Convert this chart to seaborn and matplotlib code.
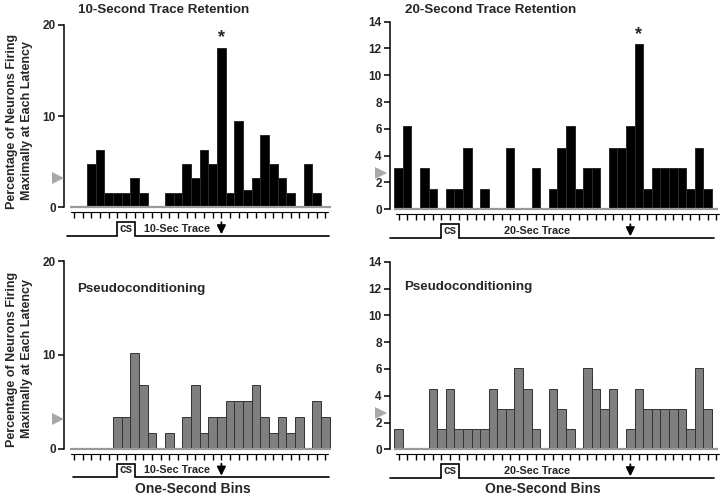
import numpy as np
import pandas as pd
import matplotlib
matplotlib.use("Agg")
import matplotlib.pyplot as plt
import seaborn as sns

# ---------------- data ----------------
bins_10 = list(range(30))
bins_20 = list(range(38))
trace10_pct = [0, 0, 4.8, 6.3, 1.6, 1.6, 1.6, 3.2, 1.6, 0, 0, 1.6, 1.6, 4.8, 3.2,
               6.3, 4.8, 17.5, 1.6, 9.5, 1.9, 3.2, 7.9, 4.8, 3.2, 1.6, 0, 4.8, 1.6, 0]
pseudo10_pct = [0, 0, 0, 0, 0, 3.4, 3.4, 10.2, 6.8, 1.7, 0, 1.7, 0, 3.4, 6.8,
                1.7, 3.4, 3.4, 5.1, 5.1, 5.1, 6.8, 3.4, 1.7, 3.4, 1.7, 3.4, 0, 5.1, 3.4]
trace20_pct = [3.1, 6.2, 0, 3.1, 1.5, 0, 1.5, 1.5, 4.6, 0, 1.5, 0, 0, 4.6, 0, 0,
               3.1, 0, 1.5, 4.6, 6.2, 1.5, 3.1, 3.1, 0, 4.6, 4.6, 6.2, 12.3, 1.5,
               3.1, 3.1, 3.1, 3.1, 1.5, 4.6, 1.5, 0]
pseudo20_pct = [1.5, 0, 0, 0, 4.5, 1.5, 4.5, 1.5, 1.5, 1.5, 1.5, 4.5, 3.0, 3.0,
                6.1, 4.5, 1.5, 0, 4.5, 3.0, 1.5, 0, 6.1, 4.5, 3.0, 4.5, 0, 1.5,
                4.5, 3.0, 3.0, 3.0, 3.0, 3.0, 1.5, 6.1, 3.0, 0]
chance_10 = 3.2
chance_20 = 2.7
cs_on, cs_off = 5, 7
us_10, us_20 = 17, 27
peak_10, peak_20 = 17, 28
titles = ["10-Second Trace Retention", "20-Second Trace Retention",
          "Pseudoconditioning", "Pseudoconditioning"]
trace_labels = ["10-Sec Trace", "20-Sec Trace"]
yticks_10 = [0, 10, 20]
yticks_20 = [0, 2, 4, 6, 8, 10, 12, 14]
ylabel = "Percentage of Neurons Firing\nMaximally at Each Latency"
xlabel = "One-Second Bins"

# ---------------- style ----------------
sns.set_theme(style="white")
plt.rcParams["font.family"] = ["Liberation Sans", "DejaVu Sans"]
plt.rcParams["font.weight"] = "bold"

W, H = 720, 498
fig = plt.figure(figsize=(7.2, 4.98), dpi=100)


def make_panel(bins, vals, chance, ymax, yticks, us, peak, face, edge,
               left, x0, ppx, right, zero, ppy, bottom, tl_left, tl_right,
               trace_x, trace_label, tri_x, star):
    top = zero - ymax * ppy
    ax = fig.add_axes([left / W, 1 - bottom / H, (right - left) / W, (bottom - top) / H])
    df = pd.DataFrame({"bin": bins, "pct": vals})
    sns.barplot(data=df, x="bin", y="pct", native_scale=True, width=1.0,
                color=face, edgecolor=edge, linewidth=0.7, saturation=1,
                errorbar=None, ax=ax, zorder=2)
    x1 = x0 + (right - left) / ppx
    y0 = -(bottom - zero) / ppy
    ax.set_xlim(x0, x1)
    ax.set_ylim(y0, ymax)
    ax.set_xlabel("")
    ax.set_ylabel("")
    ax.set_xticks([])
    ax.set_yticks(yticks)
    ax.set_yticklabels([str(t) for t in yticks], fontsize=8.5, fontweight="bold")
    ax.tick_params(axis="y", left=True, length=4, width=1.1, color="black",
                   direction="out", pad=2)
    for s in ["top", "right", "bottom"]:
        ax.spines[s].set_visible(False)
    ax.spines["left"].set_bounds(0, ymax)
    ax.spines["left"].set_color("black")
    ax.spines["left"].set_linewidth(1.1)
    ax.patch.set_alpha(0)

    # grey baseline
    ax.plot([-0.5, x1], [0, 0], color="#9a9a9a", lw=1.6, zorder=3,
            solid_capstyle="butt", clip_on=False)

    def d(off):
        return -off / ppy

    # comb of time ticks
    n = len(bins)
    ax.plot([-0.3, n - 1 + 0.3], [d(5), d(5)], color="black", lw=0.8, clip_on=False)
    ax.vlines(bins, d(11), d(5), color="black", lw=1.0, clip_on=False)

    # stimulus timeline
    base, raised = d(28.5), d(15)
    ax.plot([tl_left, cs_on, cs_on, cs_off, cs_off, tl_right],
            [base, base, raised, raised, base, base], color="black", lw=1.2,
            clip_on=False, solid_joinstyle="miter")
    mid = (base + raised) / 2
    ax.text((cs_on + cs_off) / 2, mid, "cs", ha="center", va="center",
            fontsize=8.5, fontweight="bold")
    ax.text(trace_x, mid, trace_label, ha="center", va="center",
            fontsize=7.8, fontweight="bold")
    ax.annotate("", xy=(us, d(27)), xytext=(us, d(15)),
                arrowprops=dict(arrowstyle="-|>", color="black", lw=1.3,
                                mutation_scale=13, shrinkA=0, shrinkB=0),
                annotation_clip=False)

    # chance level marker
    ax.plot([tri_x], [chance], marker=">", ms=8, color="#a8a8a8",
            markeredgewidth=0, clip_on=False, zorder=4)
    if star:
        ax.text(peak, vals[peak] + 0.1 * (ymax / 14), "*", ha="center",
                va="bottom", fontsize=13, fontweight="bold")
    return ax


# top-left: 10-s trace
make_panel(bins_10, trace10_pct, chance_10, 20, yticks_10, us_10, peak_10,
           "black", "#2a2a2a", left=64.3, x0=-1.12, ppx=8.67, right=331,
           zero=207.3, ppy=9.115, bottom=244, tl_left=-0.85, tl_right=29.4,
           trace_x=11.9, trace_label=trace_labels[0], tri_x=-1.85, star=True)
# top-right: 20-s trace
make_panel(bins_20, trace20_pct, chance_20, 14, yticks_20, us_20, peak_20,
           "black", "#2a2a2a", left=390, x0=-1.0, ppx=8.583, right=718,
           zero=209.3, ppy=13.4, bottom=244, tl_left=-1.0, tl_right=36.8,
           trace_x=16.1, trace_label=trace_labels[1], tri_x=-2.05, star=True)
# bottom-left: pseudo 10
make_panel(bins_10, pseudo10_pct, chance_10, 20, yticks_10, us_10, peak_10,
           "#7f7f7f", "#333333", left=64.3, x0=-1.12, ppx=8.67, right=331,
           zero=448.7, ppy=9.385, bottom=481, tl_left=-0.15, tl_right=29.4,
           trace_x=11.9, trace_label=trace_labels[0], tri_x=-1.85, star=False)
# bottom-right: pseudo 20
make_panel(bins_20, pseudo20_pct, chance_20, 14, yticks_20, us_20, peak_20,
           "#7f7f7f", "#333333", left=390, x0=-1.0, ppx=8.583, right=718,
           zero=449.3, ppy=13.4, bottom=481, tl_left=-1.0, tl_right=36.8,
           trace_x=16.1, trace_label=trace_labels[1], tri_x=-2.05, star=False)

# titles
tfs = 9.6
fig.text(78 / W, 1 - 10 / H, titles[0], ha="left", va="center", fontsize=tfs, fontweight="bold")
fig.text(405 / W, 1 - 10 / H, titles[1], ha="left", va="center", fontsize=tfs, fontweight="bold")
fig.text(77 / W, 1 - 289 / H, titles[2], ha="left", va="center", fontsize=tfs, fontweight="bold")
fig.text(404 / W, 1 - 287 / H, titles[3], ha="left", va="center", fontsize=tfs, fontweight="bold")

# y labels
for yc in (121, 359):
    fig.text(19.5 / W, 1 - yc / H, ylabel, rotation=90, ha="center", va="center",
             fontsize=9, fontweight="bold", linespacing=1.25)

# x labels
fig.text(193 / W, 1 - 488.5 / H, xlabel, ha="center", va="center", fontsize=10, fontweight="bold")
fig.text(543 / W, 1 - 488.5 / H, xlabel, ha="center", va="center", fontsize=10, fontweight="bold")

fig.savefig("out.png", dpi=100)
